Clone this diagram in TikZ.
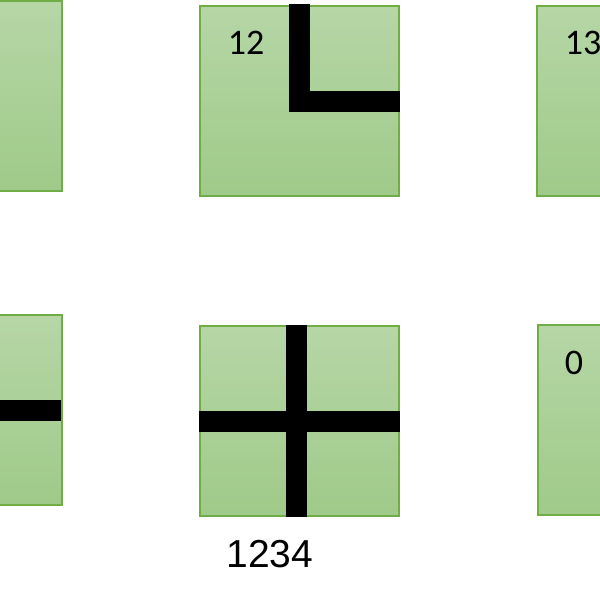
\documentclass[tikz,border=0pt]{standalone}
\usepackage{fontspec}
\newfontfamily\carlito{Carlito}
\newfontfamily\liber{Liberation Sans}
\definecolor{tiletop}{RGB}{182,214,166}
\definecolor{tilebot}{RGB}{159,202,137}
\definecolor{tileedge}{RGB}{112,173,71}

\begin{document}
\begin{tikzpicture}[
    x=0.5pt, y=-0.5pt,
    % Stijl voor de groene tegels
    tile/.style={rectangle, draw=tileedge, line width=0.6pt, top color=tiletop, bottom color=tilebot,
                 minimum width=99.5pt, minimum height=95pt, inner sep=0pt},
    % Stijl voor de zwarte balken
    bar/.style={line width=10.5pt, line cap=butt, line join=miter},
    num/.style={font=\carlito\fontsize{18}{21}\selectfont, inner sep=0pt},
    caption/.style={font=\liber\fontsize{19.5}{23}\selectfont, inner sep=0pt}
]
\useasboundingbox (0,0) rectangle (600,600);
\clip (0,0) rectangle (600,600);

% --- Rij 1 ---
\node[tile] (tl) at (-37.5,96) {};
\node[tile] (tm) at (299.5,101) {};
\node[tile] (tr) at (636.5,101) {};

% --- Rij 2 ---
\node[tile] (bl) at (-37.5,410) {};
\node[tile] (bm) at (299.5,421) {};
\node[tile] (br) at (637.5,420) {};

% --- Balken ---
\draw[bar] ([yshift=0.5pt]tm.north) -- (tm.center) -- (tm.east);
\draw[bar] (bl.west) -- ([xshift=-1pt]bl.east);
\draw[bar] ([xshift=-1.5pt]bm.north) -- ([xshift=-1.5pt]bm.south);
\draw[bar] (bm.west) -- (bm.east);

% --- Labels ---
\node[num] (l12) at (246,43) {12};
\node[num] (l13) at (583,43) {13};
\node[num] (l0) at (574,363) {0};
\node[caption] (l1234) at (270,554) {1234};

\end{tikzpicture}
\end{document}
